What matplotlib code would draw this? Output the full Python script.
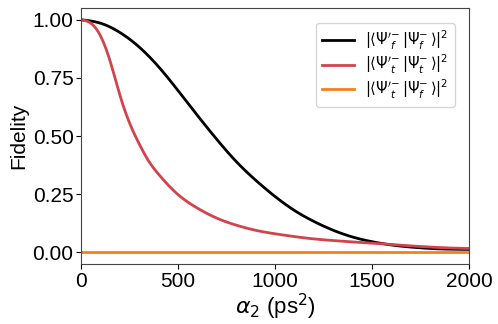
import numpy as np
import matplotlib.pyplot as plt

plt.rcParams['font.family'] = ['Liberation Sans', 'DejaVu Sans']
plt.rcParams['mathtext.fontset'] = 'dejavusans'

alpha_f = [0, 100, 200, 300, 400, 500, 600, 700, 800, 900, 1000, 1100, 1200,
           1300, 1400, 1500, 1600, 1700, 1800, 1900, 2000]
fid_ff = [1.0, 0.985, 0.945, 0.882, 0.797, 0.695, 0.588, 0.485, 0.39, 0.31, 0.24,
          0.18, 0.133, 0.095, 0.066, 0.046, 0.032, 0.023, 0.017, 0.014, 0.013]

alpha_t = [0, 50, 100, 150, 200, 250, 300, 350, 400, 500, 600, 700, 800, 900,
           1000, 1100, 1200, 1300, 1400, 1500, 1600, 1700, 1800, 1900, 2000]
fid_tt = [1.0, 0.985, 0.93, 0.82, 0.675, 0.555, 0.465, 0.39, 0.335, 0.248, 0.19,
          0.147, 0.117, 0.095, 0.08, 0.068, 0.058, 0.051, 0.045, 0.04, 0.034,
          0.028, 0.023, 0.019, 0.017]

alpha_tf = [0, 2000]
fid_tf = [0.0, 0.0]

labels = [r"$|\langle\Psi'^{-}_{f}\,|\Psi^{-}_{f}\,\rangle|^2$",
          r"$|\langle\Psi'^{-}_{t}\,|\Psi^{-}_{t}\,\rangle|^2$",
          r"$|\langle\Psi'^{-}_{t}\,|\Psi^{-}_{f}\,\rangle|^2$"]

xs = np.linspace(0, 2000, 500)


def spline(x, y):
    # natural cubic spline through the read-off points
    x = np.asarray(x, float)
    y = np.asarray(y, float)
    n = len(x)
    h = np.diff(x)
    A = np.zeros((n, n))
    r = np.zeros(n)
    A[0, 0] = A[-1, -1] = 1
    for i in range(1, n - 1):
        A[i, i - 1] = h[i - 1]
        A[i, i] = 2 * (h[i - 1] + h[i])
        A[i, i + 1] = h[i]
        r[i] = 6 * ((y[i + 1] - y[i]) / h[i] - (y[i] - y[i - 1]) / h[i - 1])
    M = np.linalg.solve(A, r)
    idx = np.clip(np.searchsorted(x, xs) - 1, 0, n - 2)
    a = x[idx + 1] - xs
    b = xs - x[idx]
    hi = h[idx]
    return (M[idx] * a**3 / (6 * hi) + M[idx + 1] * b**3 / (6 * hi)
            + (y[idx] / hi - M[idx] * hi / 6) * a
            + (y[idx + 1] / hi - M[idx + 1] * hi / 6) * b)


fig = plt.figure(figsize=(4.98, 3.24), dpi=100)
ax = fig.add_axes([0.163, 0.185, 0.779, 0.79])

ax.plot(xs, spline(alpha_f, fid_ff), color='black', lw=2, label=labels[0])
ax.plot(xs, spline(alpha_t, fid_tt), color='#d4424b', lw=2, label=labels[1])
ax.plot(alpha_tf, fid_tf, color='#f77f1e', lw=2, label=labels[2])

ax.set_xlim(0, 2000)
ax.set_ylim(-0.05, 1.05)
ax.set_xticks([0, 500, 1000, 1500, 2000])
ax.set_yticks([0, 0.25, 0.5, 0.75, 1.0])
ax.set_yticklabels(['0.00', '0.25', '0.50', '0.75', '1.00'])
ax.tick_params(labelsize=15, pad=2)
ax.set_xlabel(r'$\alpha_2$ (ps$^2$)', fontsize=16, labelpad=1)
ax.set_ylabel('Fidelity', fontsize=15, labelpad=3)
for s in ax.spines.values():
    s.set_color('#444444')

ax.legend(loc='upper right', fontsize=10.5, handlelength=2.2,
          labelspacing=0.1, borderaxespad=1.0)

fig.savefig('out.png', dpi=100)
